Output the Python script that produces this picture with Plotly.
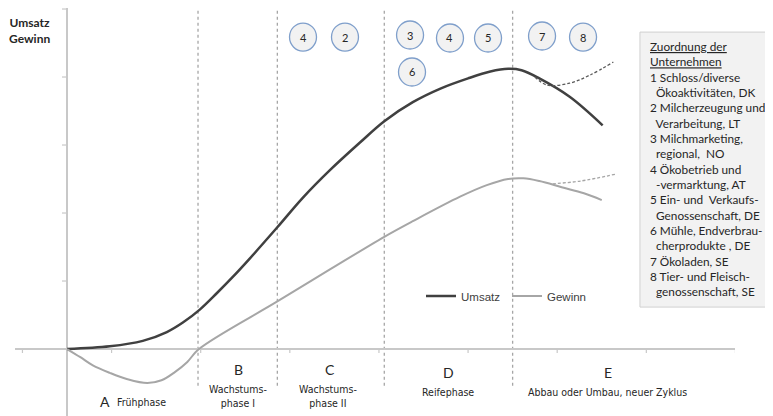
import plotly.graph_objects as go

# ---------------- data (x: time units, y: value units) ----------------
umsatz_x = [0, 0.48, 0.85, 1.12, 1.30, 1.49, 1.68, 1.86, 2.05, 2.36, 2.65, 2.95, 3.29, 3.56, 3.88, 4.19, 4.50, 4.75, 4.95, 5.10, 5.30, 5.64, 6.01]
umsatz_y = [0, 0.04, 0.12, 0.25, 0.39, 0.58, 0.82, 1.06, 1.33, 1.79, 2.23, 2.63, 3.04, 3.35, 3.63, 3.83, 3.98, 4.08, 4.12, 4.10, 3.98, 3.71, 3.29]
umsatz_alt_x = [5.25, 5.39, 5.64, 5.87, 6.13]
umsatz_alt_y = [4.00, 3.88, 3.91, 4.03, 4.22]

gewinn_x = [0, 0.15, 0.29, 0.48, 0.67, 0.90, 1.06, 1.21, 1.35, 1.48, 2.36, 2.95, 3.56, 3.88, 4.41, 4.71, 4.95, 5.12, 5.30, 5.55, 5.80, 6.00]
gewinn_y = [0, -0.12, -0.24, -0.35, -0.44, -0.50, -0.46, -0.34, -0.19, 0, 0.70, 1.17, 1.65, 1.88, 2.24, 2.41, 2.50, 2.51, 2.47, 2.38, 2.29, 2.19]
gewinn_alt_x = [5.45, 5.76, 6.15]
gewinn_alt_y = [2.43, 2.47, 2.57]

phase_bounds = [1.47, 2.36, 3.56, 5.00]
phase_letters = ["A", "B", "C", "D", "E"]
phase_names = ["Frühphase", "Wachstums-<br>phase I", "Wachstums-<br>phase II", "Reifephase", "Abbau oder Umbau, neuer Zyklus"]

x_ticks = [-0.5, 0.5, 1.5, 2.5, 3.5, 4.5, 5.5, 6.5, 7.5]
y_ticks = [1, 2, 3, 4, 5]

circle_labels = ["4", "2", "3", "4", "5", "7", "8", "6"]
circle_x = [2.648, 3.119, 3.849, 4.297, 4.724, 5.330, 5.790, 3.871]
circle_y = [4.588, 4.588, 4.618, 4.574, 4.574, 4.603, 4.588, 4.074]

box_header = ["Zuordnung der", "Unternehmen"]
firm_numbers = ["1", "2", "3", "4", "5", "6", "7", "8"]
firm_line1 = ["Schloss/diverse", "Milcherzeugung und", "Milchmarketing,", "Ökobetrieb und",
              "Ein- und  Verkaufs-", "Mühle, Endverbrau-", "Ökoladen, SE", "Tier- und Fleisch-"]
firm_line2 = ["Ökoaktivitäten, DK", "Verarbeitung, LT", "regional,  NO", "-vermarktung, AT",
              "Genossenschaft, DE", "cherprodukte , DE", None, "genossenschaft, SE"]

# ---------------- styles ----------------
DARK = "#404040"
LIGHT = "#a6a6a6"
AXIS = "#c8c8c8"
CAL = "Lato, Carlito, Calibri, sans-serif"
NARROW = "Liberation Sans Narrow, Arial Narrow, DejaVu Sans Condensed, Liberation Sans, sans-serif"

fig = go.Figure()
fig.add_trace(go.Scatter(x=umsatz_x, y=umsatz_y, mode="lines", name="Umsatz",
                         line=dict(color=DARK, width=2.5, shape="spline", smoothing=1.0)))
fig.add_trace(go.Scatter(x=gewinn_x, y=gewinn_y, mode="lines", name="Gewinn",
                         line=dict(color=LIGHT, width=2, shape="spline", smoothing=1.0)))
fig.add_trace(go.Scatter(x=umsatz_alt_x, y=umsatz_alt_y, mode="lines", showlegend=False,
                         line=dict(color="#595959", width=1.3, dash="3px,2px", shape="spline")))
fig.add_trace(go.Scatter(x=gewinn_alt_x, y=gewinn_alt_y, mode="lines", showlegend=False,
                         line=dict(color=LIGHT, width=1.3, dash="3px,2px", shape="spline")))

shapes = []
# phase separators
for b in phase_bounds:
    shapes.append(dict(type="line", xref="x", yref="y", x0=b, x1=b, y0=-0.54, y1=5.1,
                       line=dict(color=LIGHT, width=1.3, dash="3px,3px"), layer="below"))
# axis ticks
for t in x_ticks:
    shapes.append(dict(type="line", xref="x", yref="y", x0=t, x1=t, ysizemode="pixel", yanchor=0,
                       y0=-4, y1=0, line=dict(color=AXIS, width=1.2)))
for t in y_ticks:
    shapes.append(dict(type="line", xref="x", yref="y", y0=t, y1=t, xsizemode="pixel", xanchor=0,
                       x0=-5, x1=0, line=dict(color=AXIS, width=1.2)))
# company circles
for cx, cy in zip(circle_x, circle_y):
    shapes.append(dict(type="circle", xref="x", yref="y", xsizemode="pixel", ysizemode="pixel",
                       xanchor=cx, yanchor=cy, x0=-13.5, x1=13.5, y0=-14, y1=14,
                       fillcolor="#f2f2f2", line=dict(color="#7f9fcb", width=1.3)))
# info box (paper coords)
shapes.append(dict(type="rect", xref="paper", yref="paper", x0=0.868, x1=1.06, y0=0.267, y1=0.941,
                   fillcolor="#f2f2f2", line=dict(color="#d0d0d0", width=1)))

annotations = []
for lab, cx, cy in zip(circle_labels, circle_x, circle_y):
    annotations.append(dict(x=cx, y=cy, xref="x", yref="y", text=lab, showarrow=False,
                            font=dict(family=CAL, size=11, color="#262626")))

# phase labels
letter_x = [0.43, 1.919, 2.951, 4.275, 6.07]
letter_y = [-0.779, -0.294, -0.294, -0.338, -0.338]
name_x = [0.54, 1.919, 2.928, 4.275, 6.059]
name_y = [-0.779, -0.691, -0.691, -0.632, -0.632]
for i in range(5):
    annotations.append(dict(x=letter_x[i], y=letter_y[i], xref="x", yref="y", text=phase_letters[i],
                            showarrow=False, xanchor="center",
                            font=dict(family=CAL, size=14, color="#262626")))
    annotations.append(dict(x=name_x[i], y=name_y[i], xref="x", yref="y", text=phase_names[i],
                            showarrow=False, xanchor="left" if i == 0 else "center",
                            font=dict(family=NARROW, size=10.5, color="#262626")))

# y axis title
annotations.append(dict(x=(29 - 15) / 720, y=(416 - 30) / 408, xref="paper", yref="paper",
                        xanchor="center", yanchor="middle",
                        text="<b>Umsatz</b><br><b>Gewinn</b>", showarrow=False, align="center",
                        font=dict(family=CAL, size=12, color="#262626")))

# info box text
lines = ["<u>" + h + "</u>" for h in box_header]
for n, l1, l2 in zip(firm_numbers, firm_line1, firm_line2):
    lines.append(n + " " + l1)
    if l2:
        lines.append("\u00a0\u00a0" + l2)
annotations.append(dict(x=(648 - 15) / 720, y=(416 - 37) / 408, xref="paper", yref="paper",
                        xanchor="left", yanchor="top", align="left", showarrow=False,
                        text="<br>".join(lines),
                        font=dict(family=CAL, size=11.8, color="#262626")))

# page has an 8px body margin: figure occupies 765x408 from (8,8)
fig.update_layout(
    width=765, height=408,
    margin=dict(l=7, r=38, t=0, b=0),
    paper_bgcolor="white", plot_bgcolor="white",
    xaxis=dict(range=[-0.5835, 7.495], showgrid=False, showticklabels=False, ticks="",
               zeroline=True, zerolinecolor=AXIS, zerolinewidth=1.5, showline=False, fixedrange=True),
    yaxis=dict(range=[-0.985, 5.015], showgrid=False, showticklabels=False, ticks="",
               zeroline=True, zerolinecolor=AXIS, zerolinewidth=1.5, showline=False, fixedrange=True),
    showlegend=True,
    legend=dict(orientation="h", x=(421 - 15) / 720, y=(416 - 296) / 408, xanchor="left", yanchor="middle",
                entrywidth=41, entrywidthmode="pixels", font=dict(family="Liberation Sans, Arial, sans-serif",
                size=11.5, color="#404040"), bgcolor="rgba(0,0,0,0)", itemclick=False),
    shapes=shapes, annotations=annotations,
    hovermode=False,
)

fig.write_html("out.html", config={"displayModeBar": False})
